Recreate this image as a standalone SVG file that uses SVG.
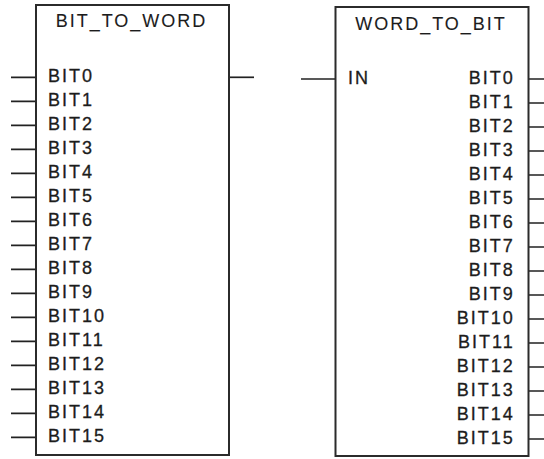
<svg xmlns="http://www.w3.org/2000/svg" width="544" height="459" viewBox="0 0 544 459">
<style>
.box{fill:#fff;stroke:#2b2b2b;stroke-width:2}
.pin{stroke:#222;stroke-width:1.7;fill:none}
.t{font-family:"Liberation Sans",Arial,sans-serif;font-size:18px;fill:#1c1c1c;stroke:#1c1c1c;stroke-width:0.3;letter-spacing:2px}
.ttl{stroke-width:0.1}
.r{text-anchor:end}
.m{text-anchor:middle}
</style>
<rect width="544" height="459" fill="#fff"/>
<g id="connectors">
<path class="pin" d="M11 77.3H36M11 101.3H36M11 125.3H36M11 149.3H36M11 173.3H36M11 197.3H36M11 221.3H36M11 245.3H36M11 269.3H36M11 293.3H36M11 317.3H36M11 341.3H36M11 365.3H36M11 389.3H36M11 413.3H36M11 437.3H36"/>
<path class="pin" d="M229 77.3H254"/>
<path class="pin" d="M301 79H335"/>
<path class="pin" d="M529 79H544M529 103H544M529 127H544M529 151H544M529 175H544M529 199H544M529 223H544M529 247H544M529 271H544M529 295H544M529 319H544M529 343H544M529 367H544M529 391H544M529 415H544M529 439H544"/>
</g>
<g id="bit_to_word">
<rect class="box" x="36" y="5" width="193" height="450"/>
<text class="t ttl m" x="131.5" y="27.3">BIT_TO_WORD</text>
<text class="t" x="48" y="81.7">BIT0</text>
<text class="t" x="48" y="105.7">BIT1</text>
<text class="t" x="48" y="129.7">BIT2</text>
<text class="t" x="48" y="153.7">BIT3</text>
<text class="t" x="48" y="177.7">BIT4</text>
<text class="t" x="48" y="201.7">BIT5</text>
<text class="t" x="48" y="225.7">BIT6</text>
<text class="t" x="48" y="249.7">BIT7</text>
<text class="t" x="48" y="273.7">BIT8</text>
<text class="t" x="48" y="297.7">BIT9</text>
<text class="t" x="48" y="321.7">BIT10</text>
<text class="t" x="48" y="345.7">BIT11</text>
<text class="t" x="48" y="369.7">BIT12</text>
<text class="t" x="48" y="393.7">BIT13</text>
<text class="t" x="48" y="417.7">BIT14</text>
<text class="t" x="48" y="441.7">BIT15</text>
</g>
<g id="word_to_bit">
<rect class="box" x="335.5" y="7" width="193" height="449"/>
<text class="t ttl m" x="431" y="30">WORD_TO_BIT</text>
<text class="t" x="348" y="84">IN</text>
<text class="t r" x="514.7" y="84">BIT0</text>
<text class="t r" x="514.7" y="108">BIT1</text>
<text class="t r" x="514.7" y="132">BIT2</text>
<text class="t r" x="514.7" y="156">BIT3</text>
<text class="t r" x="514.7" y="180">BIT4</text>
<text class="t r" x="514.7" y="204">BIT5</text>
<text class="t r" x="514.7" y="228">BIT6</text>
<text class="t r" x="514.7" y="252">BIT7</text>
<text class="t r" x="514.7" y="276">BIT8</text>
<text class="t r" x="514.7" y="300">BIT9</text>
<text class="t r" x="514.7" y="324">BIT10</text>
<text class="t r" x="514.7" y="348">BIT11</text>
<text class="t r" x="514.7" y="372">BIT12</text>
<text class="t r" x="514.7" y="396">BIT13</text>
<text class="t r" x="514.7" y="420">BIT14</text>
<text class="t r" x="514.7" y="444">BIT15</text>
</g>
</svg>
